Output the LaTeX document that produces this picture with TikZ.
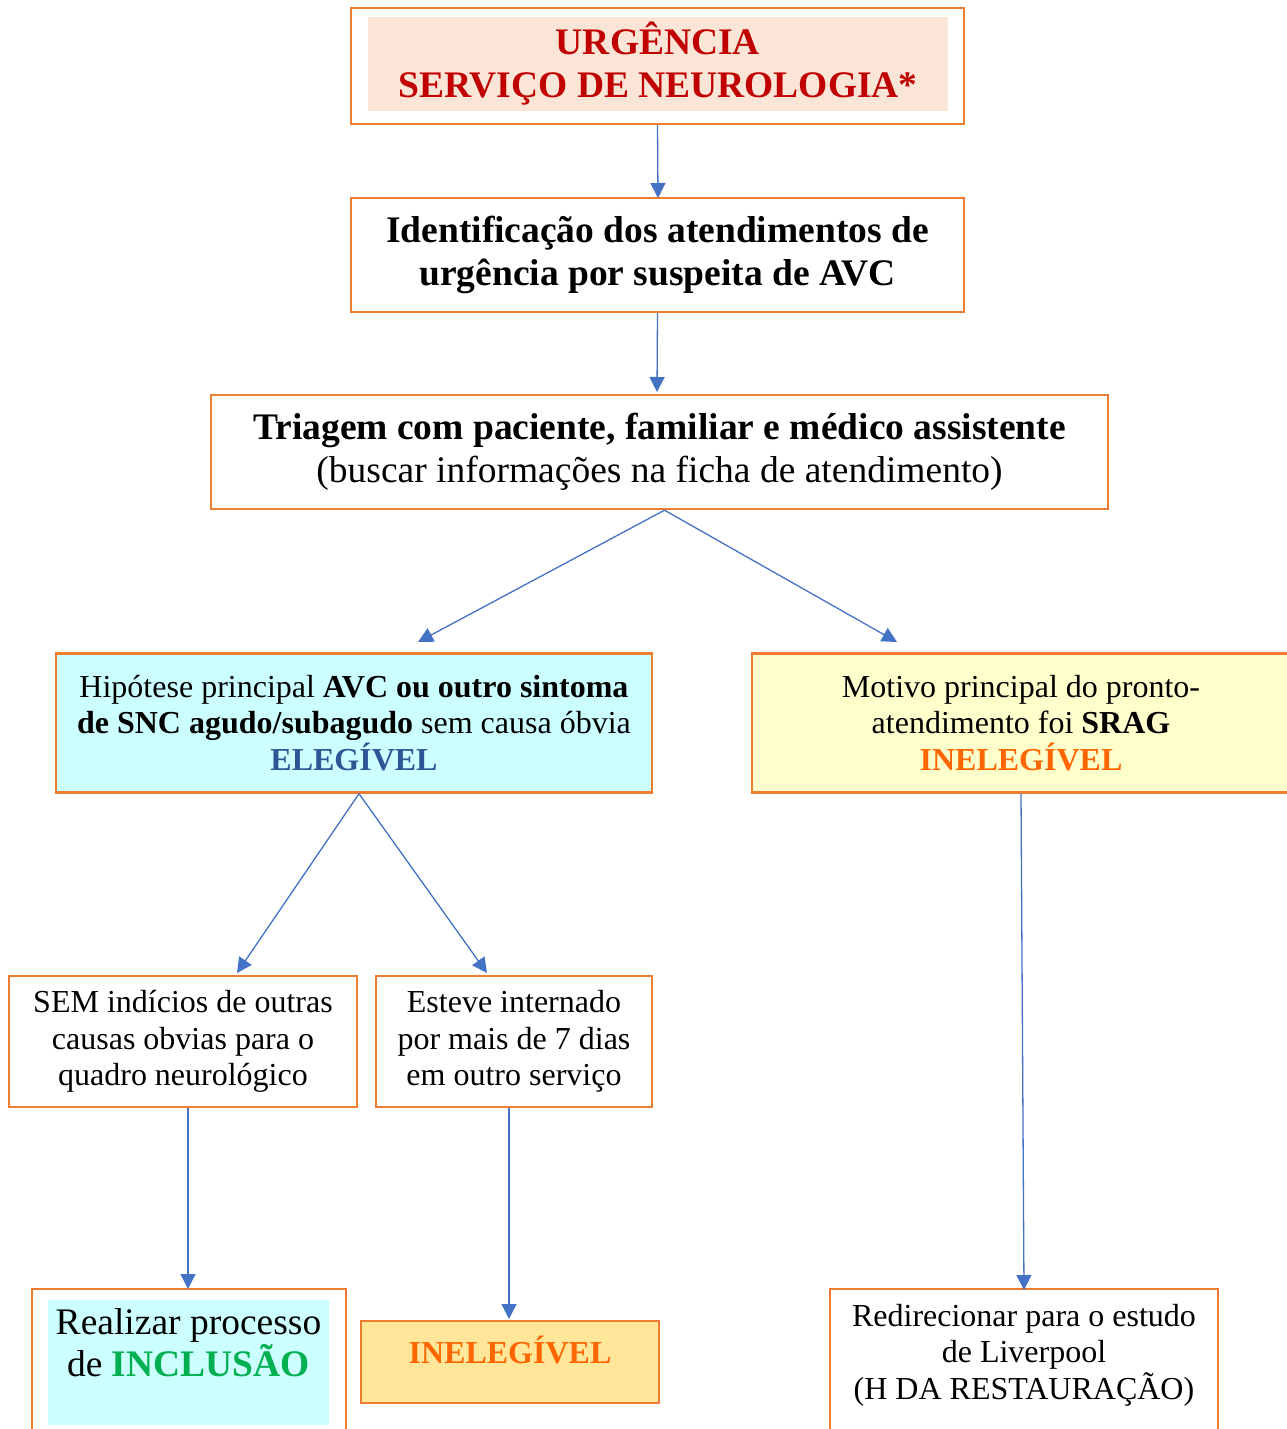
\documentclass[tikz,border=0pt]{standalone}
\usepackage{fontspec}
\setmainfont{Liberation Serif}
\usetikzlibrary{arrows.meta}
\definecolor{boxorange}{HTML}{ED7D31}
\definecolor{linkblue}{HTML}{4472C4}
\definecolor{peach}{HTML}{FBE5D6}
\definecolor{urgred}{HTML}{C00000}
\definecolor{lightcyan}{HTML}{CCFFFF}
\definecolor{lightyellow}{HTML}{FFFFCC}
\definecolor{eligblue}{HTML}{2F5597}
\definecolor{inelorange}{HTML}{FF6600}
\definecolor{inclgreen}{HTML}{00B050}
\definecolor{goldfill}{HTML}{FFE699}
\begin{document}
\begin{tikzpicture}[x=1pt,y=-1pt,
  box/.style={draw=boxorange, line width=2.4pt, inner sep=0pt, align=center,
    font=\fontsize{32}{36.5}\selectfont},
  bigtext/.style={font=\fontsize{37.5}{43}\selectfont},
  link/.style={draw=linkblue, line width=1.3pt,
    -{Triangle[length=15pt,width=15pt]}}]
\clip (0,0) rectangle (1287,1429);

% header
\node[box, minimum width=613pt, minimum height=116pt] (urg) at (657.5,66) {};
\node[fill=peach, minimum width=580pt, minimum height=94pt, inner sep=0pt,
  align=center, text=urgred, font=\bfseries\fontsize{37.5}{43}\selectfont]
  (urgtxt) at (658,64) {URGÊNCIA\\SERVIÇO DE NEUROLOGIA*};

\node[box, font=\bfseries\fontsize{37.5}{43}\selectfont,
  minimum width=613pt, minimum height=114pt] (ident) at (657.5,255)
  {Identificação dos atendimentos de\\urgência por suspeita de AVC};

\node[box, bigtext, minimum width=897pt, minimum height=114pt] (tri) at (659.5,452)
  {\textbf{Triagem com paciente, familiar e médico assistente}\\(buscar informações na ficha de atendimento)};

% second level
\node[box, fill=lightcyan, minimum width=596pt, minimum height=139pt] (hyp) at (354,723)
  {Hipótese principal \textbf{AVC ou outro sintoma}\\\textbf{de SNC agudo/subagudo} sem causa óbvia\\\textbf{\color{eligblue}ELEGÍVEL}};

\node[box, fill=lightyellow, minimum width=538pt, minimum height=139pt] (srag) at (1021,723)
  {Motivo principal do pronto-\\atendimento foi \textbf{SRAG}\\\textbf{\color{inelorange}INELEGÍVEL}};

% third level
\node[box, minimum width=348pt, minimum height=131pt] (sem) at (183,1041.5)
  {SEM indícios de outras\\causas obvias para o\\quadro neurológico};

\node[box, minimum width=276pt, minimum height=131pt] (est) at (514,1041.5)
  {Esteve internado\\por mais de 7 dias\\em outro serviço};

% outcomes
\node[box, minimum width=314pt, minimum height=180pt] (incl) at (189,1379) {};
\node[fill=lightcyan, minimum width=281pt, minimum height=125pt, inner sep=0pt]
  (inclfill) at (188.5,1362.5) {};
\node[align=center, inner sep=0pt, font=\fontsize{37.5}{42}\selectfont] (incltxt) at (188.5,1343)
  {Realizar processo\\de \textbf{\color{inclgreen}INCLUSÃO}};

\node[box, fill=goldfill, minimum width=298pt, minimum height=82pt] (inel) at (510,1362) {};
\node[inner sep=0pt, text=inelorange, font=\bfseries\fontsize{32}{36}\selectfont]
  (ineltxt) at (510,1350) {INELEGÍVEL};

\node[box, minimum width=388pt, minimum height=180pt] (redir) at (1024,1379) {};
\node[align=center, inner sep=0pt, font=\fontsize{32}{36.5}\selectfont] (redirtxt) at (1024,1355)
  {Redirecionar para o estudo\\de Liverpool\\(H DA RESTAURAÇÃO)};

% connectors
\coordinate (e1) at (658,198);
\coordinate (e2) at (657,392);
\coordinate (e3) at (418,642);
\coordinate (e4) at (897,642);
\coordinate (e5) at (237,973);
\coordinate (e6) at (487,973);
\coordinate (e7) at (1024,1290);
\coordinate (e8) at (188,1289);
\coordinate (e9) at (509,1319);

\draw[link] (urg.south) -- (e1);
\draw[link] (ident.south) -- (e2);
\draw[link] ([xshift=5pt]tri.south) -- (e3);
\draw[link] ([xshift=5pt]tri.south) -- (e4);
\draw[link] ([xshift=5pt]hyp.south) -- (e5);
\draw[link] ([xshift=5pt]hyp.south) -- (e6);
\draw[link] (srag.south) -- (e7);
\draw[link] (sem.south -| e8) -- (e8);
\draw[link] (est.south -| e9) -- (e9);
\end{tikzpicture}
\end{document}
